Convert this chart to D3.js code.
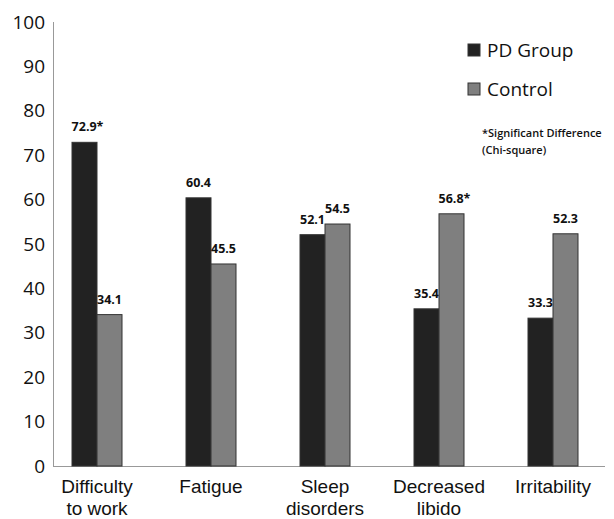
<!DOCTYPE html>
<html><head><meta charset="utf-8">
<script src="https://cdn.jsdelivr.net/npm/d3@7"></script>
<style>body{margin:0;background:#fff}</style>
</head><body><svg id="c" width="614" height="519"></svg>
<script>
const categories = [["Difficulty","to work"],["Fatigue"],["Sleep","disorders"],["Decreased","libido"],["Irritability"]];
const pdGroup = [72.9, 60.4, 52.1, 35.4, 33.3];
const control = [34.1, 45.5, 54.5, 56.8, 52.3];
const pdLabels = ["72.9*","60.4","52.1","35.4","33.3"];
const ctrlLabels = ["34.1","45.5","54.5","56.8*","52.3"];
const yTicks = [0,10,20,30,40,50,60,70,80,90,100];
const seriesNames = ["PD Group","Control"];
const colors = ["#222222","#7f7f7f"];

const svg = d3.select("#c");
const font = "'Open Sans', sans-serif";
const y = d3.scaleLinear().domain([0,100]).range([466,22]);
const x = d3.scaleBand().domain(d3.range(categories.length)).range([40,610]);
const xs = d3.scaleBand().domain([0,1]).range([0,50]);
const bw = xs.bandwidth();

// axes lines
svg.append("line").attr("x1",53.5).attr("x2",53.5).attr("y1",22).attr("y2",466.5).attr("stroke","#999").attr("stroke-width",1);
svg.append("line").attr("x1",53).attr("x2",605).attr("y1",466.5).attr("y2",466.5).attr("stroke","#999").attr("stroke-width",1);

// y tick labels
svg.selectAll(".yt").data(yTicks).enter().append("text")
  .attr("x",45).attr("y",d=>y(d)).attr("dy","0.35em").attr("text-anchor","end")
  .attr("font-family",font).attr("font-size",19).attr("fill","#111").text(d=>d);

const groups = svg.selectAll(".g").data(categories).enter().append("g")
  .attr("transform",(d,i)=>`translate(${x(i)+x.bandwidth()/2-25},0)`);

[pdGroup, control].forEach((vals,s)=>{
  const labs = s===0?pdLabels:ctrlLabels;
  groups.append("rect")
    .attr("x",xs(s)).attr("width",bw)
    .attr("y",(d,i)=>y(vals[i])).attr("height",(d,i)=>y(0)-y(vals[i]))
    .attr("fill",colors[s]).attr("stroke","#333").attr("stroke-width",1);
  groups.append("text")
    .attr("x",(d,i)=>xs(s)+bw/2 + (labs[i].endsWith("*")?3:0)).attr("y",(d,i)=>y(vals[i])-11)
    .attr("text-anchor","middle").attr("font-family",font).attr("font-weight","bold")
    .attr("font-size",12.5).attr("fill","#111").text((d,i)=>labs[i]);
});

// category labels
groups.each(function(d){
  const g = d3.select(this);
  d.forEach((line,k)=>{
    g.append("text").attr("text-anchor","middle")
      .attr("font-family","'Liberation Sans', Arial, sans-serif").attr("font-size",19).attr("fill","#111")
      .attr("x",25).attr("y",493+k*21.5).text(line);
  });
});

// legend
const leg = svg.append("g");
seriesNames.forEach((n,i)=>{
  leg.append("rect").attr("x",468).attr("y",44+i*39).attr("width",12).attr("height",12)
    .attr("fill",colors[i]).attr("stroke","#333");
  leg.append("text").attr("x",487).attr("y",50+i*39).attr("dy","0.35em")
    .attr("font-family",font).attr("font-size",19).attr("fill","#111").text(n);
});
leg.append("text").attr("x",482).attr("y",137).attr("font-family",font).attr("font-size",11)
  .attr("font-weight",600).attr("fill","#111").text("*Significant Difference");
leg.append("text").attr("x",482).attr("y",154).attr("font-family",font).attr("font-size",11)
  .attr("font-weight",600).attr("fill","#111").text("(Chi-square)");
</script></body></html>
